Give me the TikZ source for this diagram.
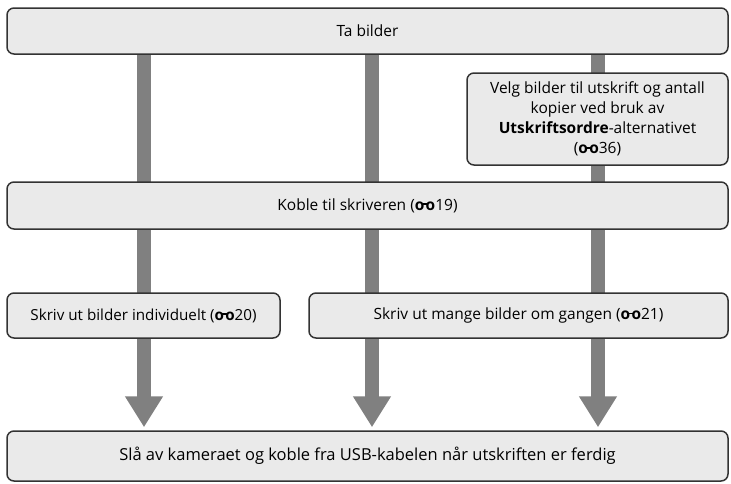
\documentclass[tikz,border=0pt]{standalone}
\usepackage{fontspec}
\setmainfont{Open Sans}
\usetikzlibrary{arrows.meta,backgrounds}
\definecolor{boxfill}{HTML}{EAEAEA}
\definecolor{boxline}{HTML}{333333}
\definecolor{shaft}{HTML}{808080}
\newcommand{\bino}{\mbox{\textbf{o}\kern-.12em\raisebox{.62ex}{\rule{.32em}{.2ex}}\kern-.12em\textbf{o}}}
\tikzset{
  stepbox/.style={draw=boxline, line width=1.5pt, fill=boxfill, rounded corners=7pt,
    inner sep=0pt, font=\fontsize{15.5}{20}\selectfont, text=black},
  bigarrow/.style={draw=shaft, line width=14pt,
    -{Triangle[length=31pt,width=36pt]}, fill=shaft, shorten >=3pt}
}
\begin{document}
\begin{tikzpicture}[x=1pt,y=-1pt]
\useasboundingbox (0,0) rectangle (731,483);
\node[stepbox, minimum width=721pt, minimum height=46pt] (top) at (367.5,31) {Ta bilder};
\node[stepbox, minimum width=261pt, minimum height=92pt, align=center] (velg) at (597.5,119)
  {Velg bilder til utskrift og antall\\kopier ved bruk av\\\textbf{Utskriftsordre}-alternativet\\(\bino36)};
\node[stepbox, minimum width=721pt, minimum height=47pt] (koble) at (367.5,205.5) {Koble til skriveren (\bino19)};
\node[stepbox, minimum width=273pt, minimum height=45pt, font=\fontsize{15.2}{20}\selectfont] (indiv) at (143.5,315.5) {Skriv ut bilder individuelt (\bino20)};
\node[stepbox, minimum width=419pt, minimum height=45pt] (mange) at (518.5,315.5) {Skriv ut mange bilder om gangen (\bino21)};
\node[stepbox, minimum width=721pt, minimum height=50pt, font=\fontsize{16.5}{20}\selectfont] (bot) at (367.5,456) {Slå av kameraet og koble fra USB-kabelen når utskriften er ferdig};
\coordinate (c1) at (144,0);
\coordinate (c2) at (372,0);
\coordinate (c3) at (598,0);
\begin{scope}[on background layer]
\foreach \c in {c1,c2,c3}
  \draw[bigarrow] (\c |- top.south) -- (\c |- bot.north);
\end{scope}
\end{tikzpicture}
\end{document}
